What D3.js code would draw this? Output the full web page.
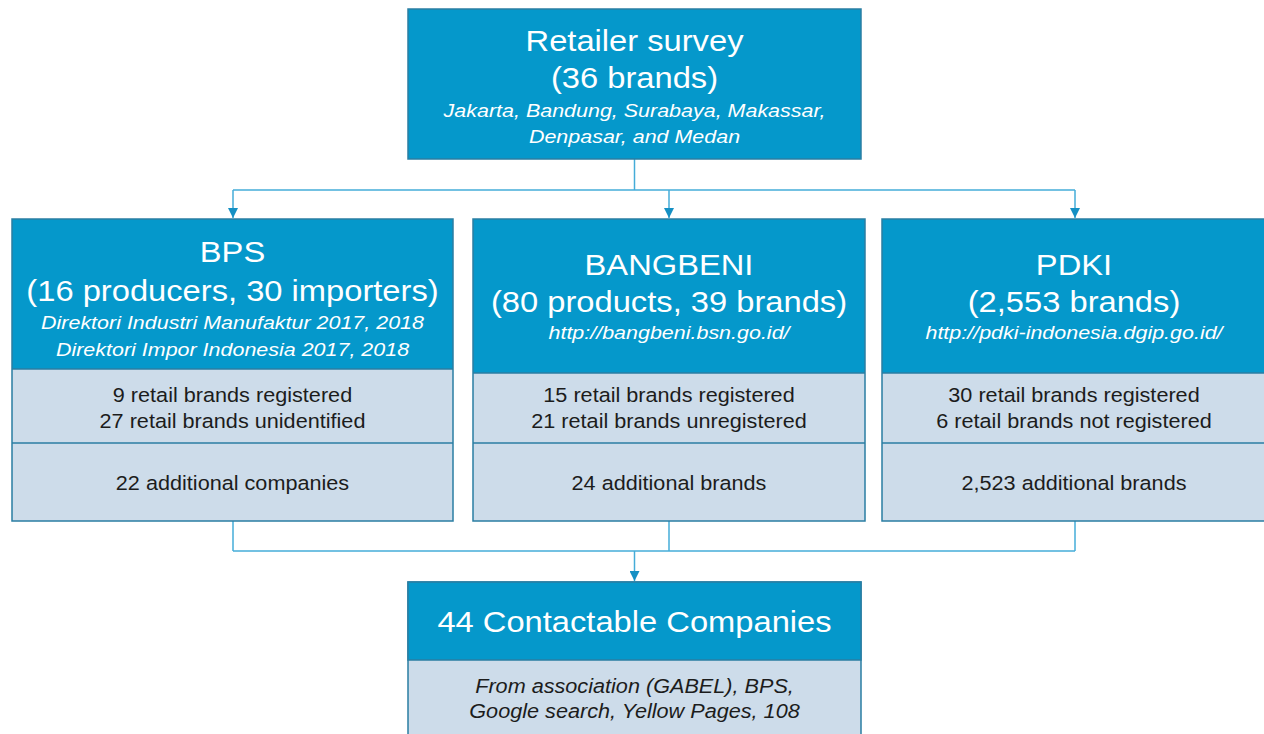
<!DOCTYPE html>
<html>
<head>
<meta charset="utf-8">
<script src="https://cdn.jsdelivr.net/npm/d3@7"></script>
<style>
  html, body { margin: 0; padding: 0; background: #fff; }
  svg { display: block; font-family: "Liberation Sans", Arial, sans-serif; }
</style>
</head>
<body>
<div id="chart"></div>
<script>
// ---- content ----
const TOP_TITLE     = ['Retailer survey', '(36 brands)'];
const TOP_NOTE      = ['Jakarta, Bandung, Surabaya, Makassar,', 'Denpasar, and Medan'];

const SOURCE_NAMES  = ['BPS', 'BANGBENI', 'PDKI'];
const SOURCE_COUNTS = ['(16 producers, 30 importers)', '(80 products, 39 brands)', '(2,553 brands)'];
const SOURCE_NOTES  = [
    ['Direktori Industri Manufaktur 2017, 2018', 'Direktori Impor Indonesia 2017, 2018'],
    ['http://bangbeni.bsn.go.id/'],
    ['http://pdki-indonesia.dgip.go.id/']
];
const MATCH_LINES   = [
    ['9 retail brands registered', '27 retail brands unidentified'],
    ['15 retail brands registered', '21 retail brands unregistered'],
    ['30 retail brands registered', '6 retail brands not registered']
];
const EXTRA_LINES   = ['22 additional companies', '24 additional brands', '2,523 additional brands'];

const RESULT_TITLE  = '44 Contactable Companies';
const RESULT_NOTE   = ['From association (GABEL), BPS,', 'Google search, Yellow Pages, 108'];

// ---- style / layout ----
const C_HEAD   = '#0598cb';
const C_BODY   = '#cddcea';
const C_BORDER = '#2a7ea3';
const C_LINK   = '#45acd8';
const C_TEXT   = '#1c1c1c';

// the source picture is a little stretched sideways
const T_TITLE  = { fill: '#fff', size: 30, sx: 1.09 };
const T_NOTE   = { fill: '#fff', size: 19, sx: 1.13, italic: true };
const T_BODY   = { fill: C_TEXT, size: 19.5, sx: 1.11 };
const T_BODY_I = { fill: C_TEXT, size: 19.5, sx: 1.11, italic: true };

const W = 1264, H = 734;

const TOP_BOX    = { x0: 408, x1: 861, y0: 9, y1: 159 };
const SRC_X      = [[12, 453], [473, 865], [882, 1268]];
const SRC_CX     = [233, 669, 1075];
const SRC_Y0     = 219, SRC_Y1 = 521, SRC_DIV = 443;
const SRC_HEAD   = [369, 373, 373];
const SRC_NAME_Y = [262, 275, 275];
const SRC_CNT_Y  = [301, 312, 312];
const SRC_NOTE_Y = [329, 339, 339];
const RES_BOX    = { x0: 408, x1: 861, y0: 582, y1: 760, head: 660 };
const SPLIT_Y    = 190, MERGE_Y = 551;

const svg = d3.select('#chart').append('svg')
    .attr('width', W)
    .attr('height', H);

const cx = (a, b) => (a + b) / 2;

svg.append('defs').append('marker')
    .attr('id', 'arrow')
    .attr('viewBox', '0 0 10 10')
    .attr('refX', 10).attr('refY', 5)
    .attr('markerWidth', 10).attr('markerHeight', 10)
    .attr('markerUnits', 'userSpaceOnUse')
    .attr('orient', 'auto')
    .append('path').attr('d', 'M0,0L10,5L0,10Z').attr('fill', '#1590c4');

function lines(g, arr, x, y0, step, opts) {
    arr.forEach((t, i) => {
        g.append('text')
            .attr('transform', `translate(${x},${y0 + i * step}) scale(${opts.sx},1)`)
            .attr('text-anchor', 'middle')
            .attr('fill', opts.fill)
            .style('font-size', opts.size + 'px')
            .style('font-style', opts.italic ? 'italic' : 'normal')
            .text(t);
    });
}

// ---- connectors ----
const link = svg.append('g').attr('fill', 'none').attr('stroke', C_LINK).attr('stroke-width', 1.5);
const topCx = cx(TOP_BOX.x0, TOP_BOX.x1);

link.append('line').attr('x1', topCx).attr('x2', topCx).attr('y1', TOP_BOX.y1).attr('y2', SPLIT_Y);
link.append('line').attr('x1', d3.min(SRC_CX)).attr('x2', d3.max(SRC_CX)).attr('y1', SPLIT_Y).attr('y2', SPLIT_Y);
SRC_CX.forEach(c => {
    link.append('line').attr('x1', c).attr('x2', c).attr('y1', SPLIT_Y).attr('y2', SRC_Y0 - 1)
        .attr('marker-end', 'url(#arrow)');
    link.append('line').attr('x1', c).attr('x2', c).attr('y1', SRC_Y1).attr('y2', MERGE_Y);
});
link.append('line').attr('x1', d3.min(SRC_CX)).attr('x2', d3.max(SRC_CX)).attr('y1', MERGE_Y).attr('y2', MERGE_Y);
link.append('line').attr('x1', topCx).attr('x2', topCx).attr('y1', MERGE_Y).attr('y2', RES_BOX.y0 - 1)
    .attr('marker-end', 'url(#arrow)');

// ---- top box ----
const topBox = svg.append('g');
topBox.append('rect')
    .attr('x', TOP_BOX.x0).attr('y', TOP_BOX.y0)
    .attr('width', TOP_BOX.x1 - TOP_BOX.x0).attr('height', TOP_BOX.y1 - TOP_BOX.y0)
    .attr('fill', C_HEAD).attr('stroke', C_BORDER).attr('stroke-width', 1.5);
lines(topBox, TOP_TITLE, topCx, 51, 37, T_TITLE);
lines(topBox, TOP_NOTE, topCx, 117, 26, T_NOTE);

// ---- source boxes ----
SOURCE_NAMES.forEach((name, i) => {
    const [x0, x1] = SRC_X[i];
    const c = i === 2 ? 1074 : cx(x0, x1);
    const g = svg.append('g');
    g.append('rect')
        .attr('x', x0).attr('y', SRC_Y0).attr('width', x1 - x0).attr('height', SRC_Y1 - SRC_Y0)
        .attr('fill', C_BODY);
    g.append('rect')
        .attr('x', x0).attr('y', SRC_Y0).attr('width', x1 - x0).attr('height', SRC_HEAD[i] - SRC_Y0)
        .attr('fill', C_HEAD);
    [SRC_HEAD[i], SRC_DIV].forEach(y => {
        g.append('line').attr('x1', x0).attr('x2', x1).attr('y1', y).attr('y2', y)
            .attr('stroke', C_BORDER).attr('stroke-width', 1.5);
    });
    g.append('rect')
        .attr('x', x0).attr('y', SRC_Y0).attr('width', x1 - x0).attr('height', SRC_Y1 - SRC_Y0)
        .attr('fill', 'none').attr('stroke', C_BORDER).attr('stroke-width', 1.5);

    lines(g, [name], c, SRC_NAME_Y[i], 0, T_TITLE);
    lines(g, [SOURCE_COUNTS[i]], c, SRC_CNT_Y[i], 0, T_TITLE);
    lines(g, SOURCE_NOTES[i], c, SRC_NOTE_Y[i], 27, T_NOTE);
    lines(g, MATCH_LINES[i], c, 402, 26, T_BODY);
    lines(g, [EXTRA_LINES[i]], c, 490, 0, T_BODY);
});

// ---- result box ----
const res = svg.append('g');
const resCx = cx(RES_BOX.x0, RES_BOX.x1);
res.append('rect')
    .attr('x', RES_BOX.x0).attr('y', RES_BOX.y0)
    .attr('width', RES_BOX.x1 - RES_BOX.x0).attr('height', RES_BOX.y1 - RES_BOX.y0)
    .attr('fill', C_BODY).attr('stroke', C_BORDER).attr('stroke-width', 1.5);
res.append('rect')
    .attr('x', RES_BOX.x0).attr('y', RES_BOX.y0)
    .attr('width', RES_BOX.x1 - RES_BOX.x0).attr('height', RES_BOX.head - RES_BOX.y0)
    .attr('fill', C_HEAD).attr('stroke', C_BORDER).attr('stroke-width', 1.5);
lines(res, [RESULT_TITLE], resCx, 632, 0, T_TITLE);
lines(res, RESULT_NOTE, resCx, 693, 25, T_BODY_I);
</script>
</body>
</html>
